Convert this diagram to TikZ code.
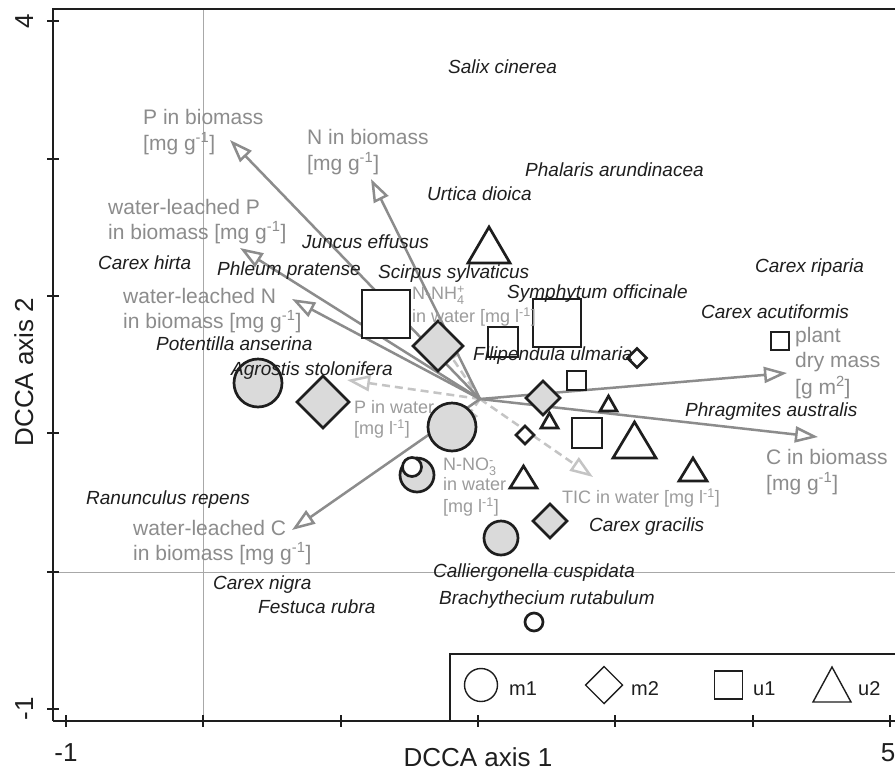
\documentclass[tikz,border=0pt]{standalone}
\usepackage{fontspec}
\setmainfont{Liberation Sans}
\usetikzlibrary{arrows.meta}
\definecolor{arr}{HTML}{8C8C8C}
\definecolor{arrl}{HTML}{C4C4C4}
\definecolor{lab}{HTML}{8C8C8C}
\definecolor{labl}{HTML}{9C9C9C}
\definecolor{gfill}{HTML}{DADADA}
\definecolor{ink}{HTML}{1E1E1E}
\definecolor{gridc}{HTML}{A8A8A8}
\newcommand\mkdia[4]{\draw[#1] (#2,#3) ++(0,-#4) -- ++(#4,#4) -- ++(-#4,#4) -- ++(-#4,-#4) -- cycle;}
\newcommand\mktri[6]{\draw[#1] (#2,#5) -- ({(#2+#3)/2},#4) -- (#3,#5) -- cycle;}
\begin{document}
\begin{tikzpicture}[x=1pt,y=-1pt,
 sp/.style={font=\fontsize{19}{22}\selectfont\itshape, text=ink, inner sep=0pt, anchor=base west},
 bl/.style={font=\fontsize{21}{24}\selectfont, text=lab, inner sep=0pt, anchor=base west},
 wl/.style={font=\fontsize{18}{21}\selectfont, text=labl, inner sep=0pt, anchor=base west},
 axl/.style={font=\fontsize{26}{30}\selectfont, text=ink, inner sep=0pt, anchor=base},
 lgl/.style={font=\fontsize{20}{24}\selectfont, text=ink, inner sep=0pt, anchor=base west},
 vec/.style={draw=arr, line width=2.5pt, -{Triangle[length=23pt,width=16pt,fill=white]}},
 vecd/.style={draw=arrl, line width=2.5pt, dash pattern=on 8pt off 5pt, -{Triangle[length=23pt,width=16pt,fill=white]}},
 mk/.style={draw=ink, line width=2.7pt, fill=white},
 mkg/.style={draw=ink, line width=2.7pt, fill=gfill},
 lgm/.style={draw=ink, line width=1.4pt, fill=white},
 frame/.style={draw=ink, line width=2.5pt},
 gridl/.style={draw=gridc, line width=0.9pt},
 tick/.style={draw=ink, line width=2pt}]
\useasboundingbox (0,0) rectangle (895,772);
\fill[white] (0,0) rectangle (895,772);
% grid lines at zero
\draw[gridl] (203,9) -- (203,721);
\draw[gridl] (53,572) -- (900,572);
% frame
\draw[frame] (53,721) -- (53,9) -- (900,9);
\draw[frame] (53,721) -- (900,721);
% ticks
\foreach \yy in {21,159,296,433,572,709} \draw[tick] (47,\yy) -- (59,\yy);
\foreach \xx in {66,203,341,478,615,753,890} \draw[tick] (\xx,715) -- (\xx,727);
% axis labels
\node[axl, rotate=90] (y4) at (33,21) {4};
\node[axl, rotate=90] (ym1) at (33,709) {-1};
\node[axl, rotate=90] (ytitle) at (33,372) {DCCA axis 2};
\node[axl] (xm1) at (66,761) {-1};
\node[axl] (x5) at (888,761) {5};
\node[axl] (xtitle) at (478,766) {DCCA axis 1};
% vectors
\coordinate (o) at (480,399);
\coordinate (tPb) at (230,140);
\coordinate (tNb) at (371,179);
\coordinate (tWP) at (240,248);
\coordinate (tWN) at (292,299);
\coordinate (tDM) at (787,373);
\coordinate (tCb) at (818,437);
\coordinate (tWC) at (292,530);
\coordinate (tPw) at (347,380);
\coordinate (tTIC) at (593,477);
\coordinate (tNH) at (440,340);
\coordinate (tNO) at (458,430);
\draw[vecd] (o) -- (tPw);
\draw[vecd] (o) -- (tTIC);
\draw[vecd] (o) -- (tNH);
\draw[vecd] (o) -- (tNO);
\draw[vec] (o) -- (tPb);
\draw[vec] (o) -- (tNb);
\draw[vec] (o) -- (tWP);
\draw[vec] (o) -- (tWN);
\draw[vec] (o) -- (tDM);
\draw[vec] (o) -- (tCb);
\draw[vec] (o) -- (tWC);
% marks: circles
\draw[mkg] (258,383) circle[radius=24pt];
\draw[mkg] (452,427) circle[radius=24pt];
\draw[mkg] (417,475) circle[radius=17pt];
\draw[mk] (412,467) circle[radius=9.5pt];
\draw[mkg] (501,538) circle[radius=17pt];
\draw[mk] (534,622) circle[radius=9pt];
% diamonds
\mkdia{mkg}{438}{346}{25}
\mkdia{mkg}{323}{402}{26}
\mkdia{mkg}{543}{398}{17}
\mkdia{mkg}{550}{521}{17}
\mkdia{mk}{525}{435}{9}
\mkdia{mk}{637}{358}{9.5}
% squares
\draw[mk] (362,290) rectangle (410,338);
\draw[mk] (533,299) rectangle (581,347);
\draw[mk] (488,327) rectangle (518,357);
\draw[mk] (567,371) rectangle (586,390);
\draw[mk] (572,418) rectangle (602,448);
\draw[mk] (771,332) rectangle (789,350);
% triangles
\mktri{mk}{468}{510}{227}{263}{}
\mktri{mk}{541}{558}{413}{428}{}
\mktri{mk}{600}{617}{396}{411}{}
\mktri{mk}{613}{656}{422}{458}{}
\mktri{mk}{510}{537}{466}{488}{}
\mktri{mk}{679}{707}{458}{481}{}
% biomass labels
\node[bl] (lPb1) at (143,124.5) {P in biomass};
\node[bl] (lPb2) at (143,150.5) {[mg g\textsuperscript{-1}]};
\node[bl] (lNb1) at (307,144.5) {N in biomass};
\node[bl] (lNb2) at (307,170.5) {[mg g\textsuperscript{-1}]};
\node[bl] (lWP1) at (108,214.5) {water-leached P};
\node[bl] (lWP2) at (108,239.5) {in biomass [mg g\textsuperscript{-1}]};
\node[bl] (lWN1) at (123,303.5) {water-leached N};
\node[bl] (lWN2) at (123,328.5) {in biomass [mg g\textsuperscript{-1}]};
\node[bl] (lDM1) at (795,342.5) {plant};
\node[bl] (lDM2) at (795,367.5) {dry mass};
\node[bl] (lDM3) at (795,394.5) {[g m\textsuperscript{2}]};
\node[bl] (lCb1) at (766,464.5) {C in biomass};
\node[bl] (lCb2) at (766,490.5) {[mg g\textsuperscript{-1}]};
\node[bl] (lWC1) at (133,535.5) {water-leached C};
\node[bl] (lWC2) at (133,560.5) {in biomass [mg g\textsuperscript{-1}]};
% water labels
\node[wl] (lNH1) at (412,299.5) {N-NH\rlap{\raisebox{-0.12em}{\textsubscript{4}}}\textsuperscript{+}};
\node[wl] (lNH2) at (412,322.5) {in water [mg l\textsuperscript{-1}]};
\node[wl] (lPw1) at (354,413.5) {P in water};
\node[wl] (lPw2) at (354,434.5) {[mg l\textsuperscript{-1}]};
\node[wl] (lNO1) at (443,470.5) {N-NO\rlap{\raisebox{-0.12em}{\textsubscript{3}}}\textsuperscript{-}};
\node[wl] (lNO2) at (443,490.5) {in water};
\node[wl] (lNO3) at (443,512.5) {[mg l\textsuperscript{-1}]};
\node[wl] (lTIC) at (562,503.5) {TIC in water [mg l\textsuperscript{-1}]};
% species
\node[sp] (s1) at (448,73) {Salix cinerea};
\node[sp] (s2) at (525,176) {Phalaris arundinacea};
\node[sp] (s3) at (427,200) {Urtica dioica};
\node[sp] (s4) at (302,248) {Juncus effusus};
\node[sp] (s5) at (98,269) {Carex hirta};
\node[sp] (s6) at (217,275) {Phleum pratense};
\node[sp] (s7) at (378,278) {Scirpus sylvaticus};
\node[sp] (s8) at (507,298) {Symphytum officinale};
\node[sp] (s9) at (755,272) {Carex riparia};
\node[sp] (s10) at (701,318) {Carex acutiformis};
\node[sp] (s11) at (156,350) {Potentilla anserina};
\node[sp] (s12) at (231,375) {Agrostis stolonifera};
\node[sp] (s13) at (473,360) {Filipendula ulmaria};
\node[sp] (s14) at (685,416) {Phragmites australis};
\node[sp] (s15) at (86,504) {Ranunculus repens};
\node[sp] (s16) at (589,531) {Carex gracilis};
\node[sp] (s17) at (213,589) {Carex nigra};
\node[sp] (s18) at (258,613) {Festuca rubra};
\node[sp] (s19) at (433,577) {Calliergonella cuspidata};
\node[sp] (s20) at (439,604) {Brachythecium rutabulum};
% legend
\draw[frame] (450,721) -- (450,654) -- (900,654);
\draw[lgm] (481,685) circle[radius=16.5pt];
\node[lgl] (lg1) at (509,695) {m1};
\mkdia{lgm}{604}{685}{18.5}
\node[lgl] (lg2) at (631,695) {m2};
\draw[lgm] (714.5,671) rectangle (742.5,699);
\node[lgl] (lg3) at (753,695) {u1};
\mktri{lgm}{813}{851}{667}{702}{}
\node[lgl] (lg4) at (858,695) {u2};
\end{tikzpicture}
\end{document}
